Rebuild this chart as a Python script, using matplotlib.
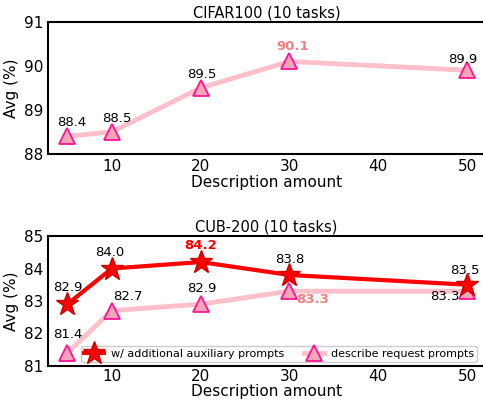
import matplotlib.pyplot as plt

amounts = [5, 10, 20, 30, 50]
cifar_avg = [88.4, 88.5, 89.5, 90.1, 89.9]
cub_aux = [82.9, 84.0, 84.2, 83.8, 83.5]
cub_desc = [81.4, 82.7, 82.9, 83.3, 83.3]

# label offsets (points) for each value label
cifar_off = [(3, 10), (3.5, 10), (1, 9.5), (2, 10.5), (-3, 8)]
aux_off = [(0, 12), (-1.5, 11.5), (0, 12), (0, 11), (-1.5, 10)]
desc_off = [(0, 13), (11.5, 10.5), (1, 11.5), (17, -6), (-16, -4)]

pink_line = '#ffc0cb'
pink_face = '#f4a6b8'
pink_edge = '#ff1493'
pink_text = '#f08080'

fig = plt.figure(figsize=(4.83, 4.05), dpi=100)
ax1 = fig.add_axes([0.099, 0.620, 0.905, 0.326])
ax2 = fig.add_axes([0.099, 0.097, 0.905, 0.320])


def put_labels(ax, xs, ys, offsets, hi, hi_color):
    for i, (x, y) in enumerate(zip(xs, ys)):
        kw = dict(textcoords='offset points', ha='center', va='center', fontsize=9.5)
        if i == hi:
            kw.update(color=hi_color, fontweight='bold')
        ax.annotate(f'{y:.1f}', (x, y), xytext=offsets[i], **kw)


# CIFAR100
ax1.plot(amounts, cifar_avg, color=pink_line, lw=3.5, marker='^', ms=12,
         mfc=pink_face, mec=pink_edge, mew=1.3)
put_labels(ax1, amounts, cifar_avg, cifar_off, 3, pink_text)
ax1.set_ylim(88, 91)
ax1.set_yticks([88, 89, 90, 91])
ax1.set_title('CIFAR100 (10 tasks)', fontsize=10.5, pad=3)

# CUB-200
ax2.plot(amounts, cub_aux, color='red', lw=3, marker='*', ms=17,
         mfc='red', mec='#d00000', label='w/ additional auxiliary prompts', zorder=3)
ax2.plot(amounts, cub_desc, color=pink_line, lw=3.5, marker='^', ms=12,
         mfc=pink_face, mec=pink_edge, mew=1.3, label='describe request prompts', zorder=2)
put_labels(ax2, amounts, cub_aux, aux_off, 2, 'red')
put_labels(ax2, amounts, cub_desc, desc_off, 3, pink_text)

ax2.set_ylim(81, 85)
ax2.set_yticks([81, 82, 83, 84, 85])
ax2.set_title('CUB-200 (10 tasks)', fontsize=10.5, pad=3)
ax2.legend(loc='lower right', ncol=2, fontsize=8, framealpha=1, edgecolor='#cccccc',
           handlelength=1.8, handletextpad=0.6, borderpad=0.3, columnspacing=1.8,
           borderaxespad=0.3, bbox_to_anchor=(0.99, 0.0))

for ax in (ax1, ax2):
    ax.set_xlim(2.8, 52)
    ax.set_xticks([10, 20, 30, 40, 50])
    ax.tick_params(labelsize=11, length=0, pad=3.5)
    ax.set_ylabel('Avg (%)', fontsize=11, labelpad=3)
    for s in ax.spines.values():
        s.set_linewidth(1.5)

ax2.tick_params(axis='x', pad=2.5)
ax1.set_xlabel('Description amount', fontsize=11, labelpad=1)
ax2.set_xlabel('Description amount', fontsize=11, labelpad=0)

fig.savefig('out.png', dpi=100)
